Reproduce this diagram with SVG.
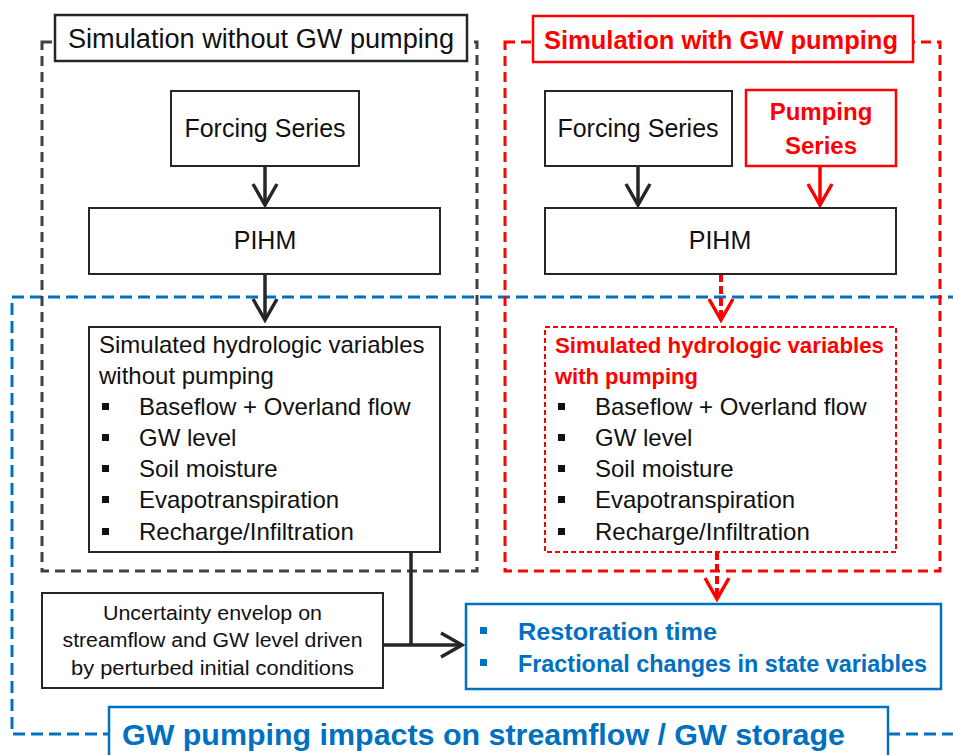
<svg xmlns="http://www.w3.org/2000/svg" width="953" height="755" viewBox="0 0 953 755">
<style>
text{font-family:"Liberation Sans",Arial,sans-serif;fill:#111}
.box{fill:#fff;stroke:#262626;stroke-width:2}
.rbox{fill:#fff;stroke:#f00;stroke-width:2.5}
.rdash{fill:#fff;stroke:#f00;stroke-width:2;stroke-dasharray:5 3}
.bbox{fill:#fff;stroke:#0070c0;stroke-width:2.5}
.gframe{fill:none;stroke:#404040;stroke-width:3;stroke-dasharray:10 6}
.rframe{fill:none;stroke:#f00;stroke-width:3;stroke-dasharray:10 6}
.bframe{fill:none;stroke:#0070c0;stroke-width:3;stroke-dasharray:12 6}
.conn{fill:none;stroke:#262626;stroke-width:3.5}
.rconn{fill:none;stroke:#f00;stroke-width:3.5}
.rdconn{fill:none;stroke:#f00;stroke-width:4;stroke-dasharray:8 4}
.t25{font-size:25px;text-anchor:middle}
.t24{font-size:24px}
.red{fill:#f00;font-weight:bold}
.blue{fill:#0070c0;font-weight:bold}
.bul{fill:#111}
.bbul{fill:#0070c0}
</style>
<defs>
<marker id="ahK" markerUnits="userSpaceOnUse" orient="auto" overflow="visible" refX="0" refY="0" markerWidth="30" markerHeight="30">
<path d="M-21,-12 L0,0 L-21,12" fill="none" stroke="#262626" stroke-width="3.5"/>
</marker>
<marker id="ahR" markerUnits="userSpaceOnUse" orient="auto" overflow="visible" refX="0" refY="0" markerWidth="30" markerHeight="30">
<path d="M-21,-12 L0,0 L-21,12" fill="none" stroke="#f00" stroke-width="3.5"/>
</marker>
</defs>

<g id="frames">
<path class="bframe" d="M960,297 H12 V734 H109 M888,734 H960"/>
<rect class="gframe" x="42" y="42" width="435" height="529"/>
<rect class="rframe" x="505" y="42" width="435" height="529"/>
</g>

<g id="connectors">
<path class="conn" d="M265,166 V205" marker-end="url(#ahK)"/>
<path class="conn" d="M265,274 V320" marker-end="url(#ahK)"/>
<path class="conn" d="M638,166 V205" marker-end="url(#ahK)"/>
<path class="rconn" d="M820,166 V205" marker-end="url(#ahR)"/>
<path class="rdconn" d="M721,274 V320" marker-end="url(#ahR)"/>
<path class="rdconn" d="M717,552 V599" marker-end="url(#ahR)"/>
<path class="conn" d="M411,552 V645"/>
<path class="conn" d="M383,645 H462" marker-end="url(#ahK)"/>
</g>

<g id="title-without">
<rect class="box" x="55" y="15" width="412" height="46" style="stroke-width:2.5"/>
<text x="261" y="48" font-size="27" text-anchor="middle" textLength="386" lengthAdjust="spacingAndGlyphs">Simulation without GW pumping</text>
</g>

<g id="title-with">
<rect class="rbox" x="533" y="16" width="380" height="46"/>
<text class="red" x="721" y="49" font-size="25.5" text-anchor="middle" textLength="354" lengthAdjust="spacingAndGlyphs">Simulation with GW pumping</text>
</g>

<g id="forcing-left">
<rect class="box" x="171" y="91" width="188" height="75"/>
<text class="t25" x="265" y="137">Forcing Series</text>
</g>

<g id="pihm-left">
<rect class="box" x="89" y="208" width="351" height="66"/>
<text class="t25" x="265" y="249">PIHM</text>
</g>

<g id="forcing-right">
<rect class="box" x="545" y="91" width="187" height="75"/>
<text class="t25" x="638" y="137">Forcing Series</text>
</g>

<g id="pumping-series">
<rect class="rbox" x="746" y="90" width="150" height="76"/>
<text class="red" x="821" y="120" font-size="24" text-anchor="middle">Pumping</text>
<text class="red" x="821" y="154" font-size="24" text-anchor="middle">Series</text>
</g>

<g id="pihm-right">
<rect class="box" x="545" y="208" width="351" height="66"/>
<text class="t25" x="720" y="249">PIHM</text>
</g>

<g id="sim-without">
<rect class="box" x="89" y="327" width="351" height="225"/>
<text class="t24" x="99" y="353">Simulated hydrologic variables</text>
<text class="t24" x="99" y="384">without pumping</text>
<rect class="bul" x="102" y="403" width="7" height="7"/>
<rect class="bul" x="102" y="434" width="7" height="7"/>
<rect class="bul" x="102" y="465" width="7" height="7"/>
<rect class="bul" x="102" y="496" width="7" height="7"/>
<rect class="bul" x="102" y="528" width="7" height="7"/>
<text class="t24" x="139" y="415">Baseflow + Overland flow</text>
<text class="t24" x="139" y="446">GW level</text>
<text class="t24" x="139" y="477">Soil moisture</text>
<text class="t24" x="139" y="508">Evapotranspiration</text>
<text class="t24" x="139" y="540">Recharge/Infiltration</text>
</g>

<g id="sim-with">
<rect class="rdash" x="545" y="327" width="351" height="225"/>
<text class="red" x="555" y="353" font-size="22" textLength="329" lengthAdjust="spacingAndGlyphs">Simulated hydrologic variables</text>
<text class="red" x="555" y="384" font-size="22">with pumping</text>
<rect class="bul" x="558" y="403" width="7" height="7"/>
<rect class="bul" x="558" y="434" width="7" height="7"/>
<rect class="bul" x="558" y="465" width="7" height="7"/>
<rect class="bul" x="558" y="496" width="7" height="7"/>
<rect class="bul" x="558" y="528" width="7" height="7"/>
<text class="t24" x="595" y="415">Baseflow + Overland flow</text>
<text class="t24" x="595" y="446">GW level</text>
<text class="t24" x="595" y="477">Soil moisture</text>
<text class="t24" x="595" y="508">Evapotranspiration</text>
<text class="t24" x="595" y="540">Recharge/Infiltration</text>
</g>

<g id="uncertainty">
<rect class="box" x="42" y="593" width="341" height="95"/>
<text x="212.5" y="620" font-size="20" text-anchor="middle" textLength="219" lengthAdjust="spacingAndGlyphs">Uncertainty envelop on</text>
<text x="212.5" y="647" font-size="20" text-anchor="middle" textLength="300" lengthAdjust="spacingAndGlyphs">streamflow and GW level driven</text>
<text x="212.5" y="675" font-size="20" text-anchor="middle" textLength="283" lengthAdjust="spacingAndGlyphs">by perturbed initial conditions</text>
</g>

<g id="results">
<rect class="bbox" x="466" y="604" width="475" height="85"/>
<rect class="bbul" x="480" y="627" width="7" height="7"/>
<rect class="bbul" x="480" y="659" width="7" height="7"/>
<text class="blue" x="518" y="640" font-size="24" textLength="199" lengthAdjust="spacingAndGlyphs">Restoration time</text>
<text class="blue" x="518" y="672" font-size="24" textLength="409" lengthAdjust="spacingAndGlyphs">Fractional changes in state variables</text>
</g>

<g id="impacts-title">
<rect class="bbox" x="109" y="707" width="779" height="60"/>
<text class="blue" x="122" y="745" font-size="30" textLength="723" lengthAdjust="spacingAndGlyphs">GW pumping impacts on streamflow / GW storage</text>
</g>
</svg>
